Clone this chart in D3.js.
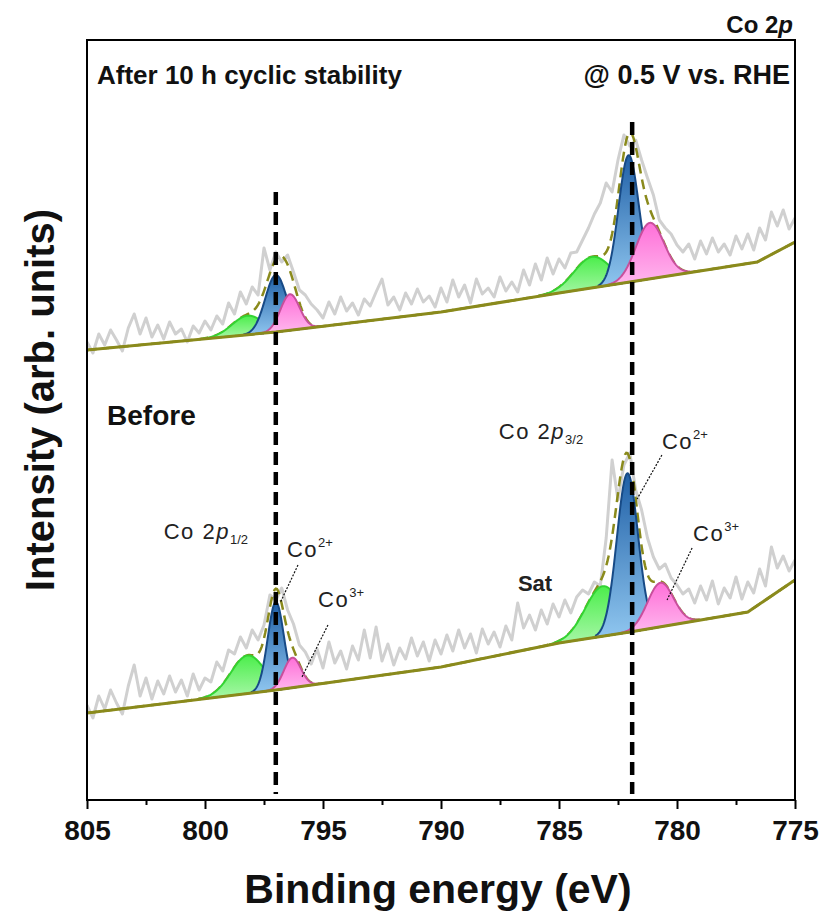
<!DOCTYPE html>
<html>
<head>
<meta charset="utf-8">
<script src="https://cdn.jsdelivr.net/npm/d3@7"></script>
<style>
  body { margin: 0; background: #fff; }
  svg { display: block; font-family: 'Liberation Sans', Arial, sans-serif; }
</style>
</head>
<body>
<svg width="828" height="915"></svg>
<script>
// binding energy grid of the raw spectra (eV), 805 -> 775 in 0.25 steps
const energyStart = 805;
const energyStep = 0.25;

// raw counts (arb.)
const afterRaw = [
  458, 447, 466, 455, 470, 460, 449, 472, 486, 466, 482, 463, 475, 461, 478, 466,
  471, 458, 474, 467, 479, 470, 484, 476, 497, 486, 508, 496, 513, 505, 552, 530,
  548, 538, 545, 528, 510, 505, 496, 490, 482, 498, 486, 503, 489, 497, 485, 501,
  494, 508, 521, 495, 503, 490, 507, 496, 511, 498, 504, 493, 512, 498, 520, 503,
  515, 497, 521, 506, 512, 503, 523, 509, 518, 508, 530, 515, 536, 520, 542, 526,
  541, 532, 547, 548, 560, 572, 586, 597, 617, 608, 640, 665, 654, 660, 640, 622,
  605, 580, 572, 566, 555, 548, 556, 541, 559, 546, 562, 548, 556, 545, 564, 551,
  566, 550, 572, 560, 588, 574, 590, 571, 582
];
const beforeRaw = [
  95, 82, 104, 91, 110, 97, 86, 114, 135, 104, 122, 101, 119, 106, 124, 108,
  120, 104, 126, 110, 122, 118, 138, 129, 150, 146, 163, 152, 170, 160, 175, 205,
  200, 212, 190, 176, 155, 148, 136, 151, 132, 158, 137, 149, 131, 154, 140, 170,
  142, 173, 139, 156, 135, 152, 141, 162, 144, 158, 139, 160, 146, 165, 149, 170,
  152, 166, 147, 171, 156, 168, 153, 174, 160, 197, 172, 185, 170, 190, 176, 196,
  183, 200, 187, 203, 210, 206, 218, 214, 262, 340, 300, 335, 347, 310, 290, 262,
  243, 231, 236, 222, 215, 206, 211, 197, 214, 200, 219, 196, 212, 202, 223, 201,
  218, 207, 231, 214, 253, 232, 244, 229, 240
];

// Shirley-type backgrounds: [eV, counts]
const afterBackground = [[805, 450], [797, 468], [790, 488], [785, 507], [782, 518], [776.6, 538], [775, 558]];
const beforeBackground = [[805, 87], [797, 110], [790, 133], [785, 157], [782, 168], [777, 188], [775, 220]];

// fitted components: centre (eV), height above background, FWHM (eV)
const afterPeaks = [
  {kind: 'sat', center: 798.2, height: 19, fwhm: 1.55},
  {kind: 'co2', center: 797.0, height: 57, fwhm: 1.05},
  {kind: 'co3', center: 796.4, height: 36, fwhm: 0.95},
  {kind: 'sat', center: 783.6, height: 31, fwhm: 1.8},
  {kind: 'co2', center: 782.05, height: 127, fwhm: 1.0},
  {kind: 'co3', center: 781.15, height: 56, fwhm: 1.4}
];
const beforePeaks = [
  {kind: 'sat', center: 798.2, height: 38, fwhm: 1.65},
  {kind: 'co2', center: 797.0, height: 88, fwhm: 0.8},
  {kind: 'co3', center: 796.3, height: 30, fwhm: 0.85},
  {kind: 'sat', center: 783.15, height: 50, fwhm: 1.75},
  {kind: 'co2', center: 782.1, height: 159, fwhm: 1.05},
  {kind: 'co3', center: 780.7, height: 44, fwhm: 1.3}
];

// reference lines (eV) with their top end (counts)
const markerEnergies = [797.0, 781.9];
const markerTops = [608, 678];

const xTicks = [805, 800, 795, 790, 785, 780, 775];
const xMinorTicks = [802.5, 797.5, 792.5, 787.5, 782.5, 777.5];

// annotations: [eV, counts]
const labelSpots = {
  p12: [801.75, 261], p32: [787.55, 361], before: [804.15, 375], sat: [786.74, 209],
  co2a: [796.53, 243], co3a: [795.21, 193], co2b: [780.64, 351], co3b: [779.32, 259]
};
const leaders = [
  [796.06, 235, 796.82, 197],
  [794.79, 175, 795.89, 123],
  [780.64, 345, 781.69, 301],
  [779.36, 252, 780.42, 200]
];

function createChart() {
  const margin = {left: 87, top: 40, right: 33, bottom: 115};
  const width = 828 - margin.left - margin.right;
  const height = 915 - margin.top - margin.bottom;
  const olive = '#8a8a1c';

  const svg = d3.select('svg');
  const defs = svg.append('defs');

  const gradient = (id, top, bottom) => {
    const g = defs.append('linearGradient')
        .attr('id', id)
        .attr('x1', 0).attr('y1', 0).attr('x2', 0).attr('y2', 1);
    g.append('stop').attr('offset', '0%').attr('stop-color', top);
    g.append('stop').attr('offset', '100%').attr('stop-color', bottom);
  };
  gradient('gSat', '#4cee4c', '#a9f7a9');
  gradient('gCo2', '#1f5fa6', '#8fc6ef');
  gradient('gCo3', '#ff6fd8', '#ffb8ee');
  const styles = {
    sat: {fill: 'url(#gSat)', stroke: '#33d433'},
    co2: {fill: 'url(#gCo2)', stroke: '#174a86'},
    co3: {fill: 'url(#gCo3)', stroke: '#c8509c'}
  };

  defs.append('clipPath').attr('id', 'plotClip')
      .append('rect').attr('width', width).attr('height', height);

  const chart = svg.append('g')
      .attr('transform', `translate(${margin.left}, ${margin.top})`);

  const xScale = d3.scaleLinear().domain([805, 775]).range([0, width]);
  const yScale = d3.scaleLinear().domain([0, 760]).range([height, 0]);

  const plot = chart.append('g').attr('clip-path', 'url(#plotClip)');

  const drawSpectrum = (raw, background, peaks) => {
    const bg = d3.scaleLinear()
        .domain(background.map(d => d[0]))
        .range(background.map(d => d[1]));
    const gauss = (p, e) => {
      const s = p.fwhm / 2.3548;
      return p.height * Math.exp(-0.5 * ((e - p.center) / s) ** 2);
    };

    const rawLine = d3.line()
        .x((d, i) => xScale(energyStart - i * energyStep))
        .y(d => yScale(d));
    plot.append('path')
        .attr('d', rawLine(raw))
        .attr('fill', 'none')
        .attr('stroke', '#d0d0d0')
        .attr('stroke-width', 3)
        .attr('stroke-linejoin', 'round');

    const grid = d3.range(805, 774.99, -0.05);
    const envelope = d3.line()
        .x(e => xScale(e))
        .y(e => yScale(bg(e) + d3.sum(peaks, p => gauss(p, e))));
    plot.append('path')
        .attr('d', envelope(grid))
        .attr('fill', 'none')
        .attr('stroke', olive)
        .attr('stroke-width', 2.5)
        .attr('stroke-dasharray', '10,6');

    peaks.forEach(p => {
      const s = p.fwhm / 2.3548;
      const es = d3.range(p.center + 3 * s, p.center - 3 * s, -0.02);
      const area = d3.area()
          .x(e => xScale(e))
          .y0(e => yScale(bg(e)))
          .y1(e => yScale(bg(e) + gauss(p, e)));
      plot.append('path')
          .attr('d', area(es))
          .attr('fill', styles[p.kind].fill)
          .attr('stroke', styles[p.kind].stroke)
          .attr('stroke-width', 2);
    });

    plot.append('path')
        .attr('d', d3.line().x(d => xScale(d[0])).y(d => yScale(d[1]))(background))
        .attr('fill', 'none')
        .attr('stroke', olive)
        .attr('stroke-width', 3);
  };

  drawSpectrum(afterRaw, afterBackground, afterPeaks);
  drawSpectrum(beforeRaw, beforeBackground, beforePeaks);

  markerEnergies.forEach((e, i) => {
    plot.append('line')
        .attr('x1', xScale(e)).attr('x2', xScale(e))
        .attr('y1', yScale(markerTops[i])).attr('y2', yScale(6))
        .attr('stroke', '#000')
        .attr('stroke-width', 4.5)
        .attr('stroke-dasharray', '13,7');
  });

  leaders.forEach(d => {
    chart.append('line')
        .attr('x1', xScale(d[0])).attr('y1', yScale(d[1]))
        .attr('x2', xScale(d[2])).attr('y2', yScale(d[3]))
        .attr('stroke', '#111')
        .attr('stroke-width', 1.2)
        .attr('stroke-dasharray', '2,1.5');
  });

  // frame and bottom axis
  chart.append('rect')
      .attr('width', width).attr('height', height)
      .attr('fill', 'none')
      .attr('stroke', '#000')
      .attr('stroke-width', 2);

  const xAxis = d3.axisBottom(xScale)
      .tickValues(xTicks)
      .tickSize(9)
      .tickPadding(11)
      .tickFormat(d3.format('d'));
  const xAxisG = chart.append('g')
      .attr('transform', `translate(0, ${height})`)
      .call(xAxis);
  xAxisG.select('.domain').remove();
  xAxisG.selectAll('line').attr('stroke-width', 2);
  xAxisG.selectAll('text')
      .attr('font-size', 28)
      .attr('font-weight', 'bold')
      .attr('font-family', "'Liberation Sans', Arial, sans-serif")
      .attr('fill', '#111');

  const minorAxis = d3.axisBottom(xScale)
      .tickValues(xMinorTicks)
      .tickSize(5)
      .tickFormat('');
  const minorG = chart.append('g')
      .attr('transform', `translate(0, ${height})`)
      .call(minorAxis);
  minorG.select('.domain').remove();
  minorG.selectAll('line').attr('stroke-width', 2);

  chart.append('text')
      .attr('x', width / 2 - 3)
      .attr('y', height + 103)
      .attr('text-anchor', 'middle')
      .attr('font-size', 41)
      .attr('font-weight', 'bold')
      .attr('fill', '#111')
      .text('Binding energy (eV)');

  chart.append('text')
      .attr('transform', `translate(${-33}, ${height / 2 - 20}) rotate(-90)`)
      .attr('text-anchor', 'middle')
      .attr('font-size', 40)
      .attr('font-weight', 'bold')
      .attr('fill', '#111')
      .text('Intensity (arb. units)');

  // header texts
  const title = chart.append('text')
      .attr('x', width - 2)
      .attr('y', -7)
      .attr('text-anchor', 'end')
      .attr('font-size', 24)
      .attr('font-weight', 'bold')
      .attr('fill', '#111');
  title.append('tspan').text('Co 2');
  title.append('tspan').attr('font-style', 'italic').text('p');

  chart.append('text')
      .attr('x', 10).attr('y', 44)
      .attr('font-size', 26)
      .attr('font-weight', 'bold')
      .attr('fill', '#111')
      .text('After 10 h cyclic stability');
  chart.append('text')
      .attr('x', width - 5).attr('y', 44)
      .attr('text-anchor', 'end')
      .attr('font-size', 27)
      .attr('font-weight', 'bold')
      .attr('fill', '#111')
      .text('@ 0.5 V vs. RHE');

  chart.append('text')
      .attr('x', xScale(labelSpots.before[0]))
      .attr('y', yScale(labelSpots.before[1]))
      .attr('font-size', 28)
      .attr('font-weight', 'bold')
      .attr('fill', '#111')
      .text('Before');

  chart.append('text')
      .attr('x', xScale(labelSpots.sat[0]))
      .attr('y', yScale(labelSpots.sat[1]))
      .attr('font-size', 22)
      .attr('font-weight', 'bold')
      .attr('fill', '#222')
      .text('Sat');

  const orbital = (spot, sub) => {
    const t = chart.append('text')
        .attr('x', xScale(spot[0]))
        .attr('y', yScale(spot[1]))
        .attr('font-size', 22)
        .attr('letter-spacing', 1.5)
        .attr('fill', '#222');
    t.append('tspan').text('Co 2');
    t.append('tspan').attr('font-style', 'italic').text('p');
    t.append('tspan').attr('font-size', 13).attr('dy', 5).attr('letter-spacing', 0).text(sub);
  };
  orbital(labelSpots.p12, '1/2');
  orbital(labelSpots.p32, '3/2');

  const ion = (spot, charge) => {
    const t = chart.append('text')
        .attr('x', xScale(spot[0]))
        .attr('y', yScale(spot[1]))
        .attr('font-size', 22)
        .attr('letter-spacing', 1.5)
        .attr('fill', '#222');
    t.append('tspan').text('Co');
    t.append('tspan').attr('font-size', 13).attr('dy', -10).attr('letter-spacing', 0).text(charge);
  };
  ion(labelSpots.co2a, '2+');
  ion(labelSpots.co3a, '3+');
  ion(labelSpots.co2b, '2+');
  ion(labelSpots.co3b, '3+');
}

createChart();
</script>
</body>
</html>
